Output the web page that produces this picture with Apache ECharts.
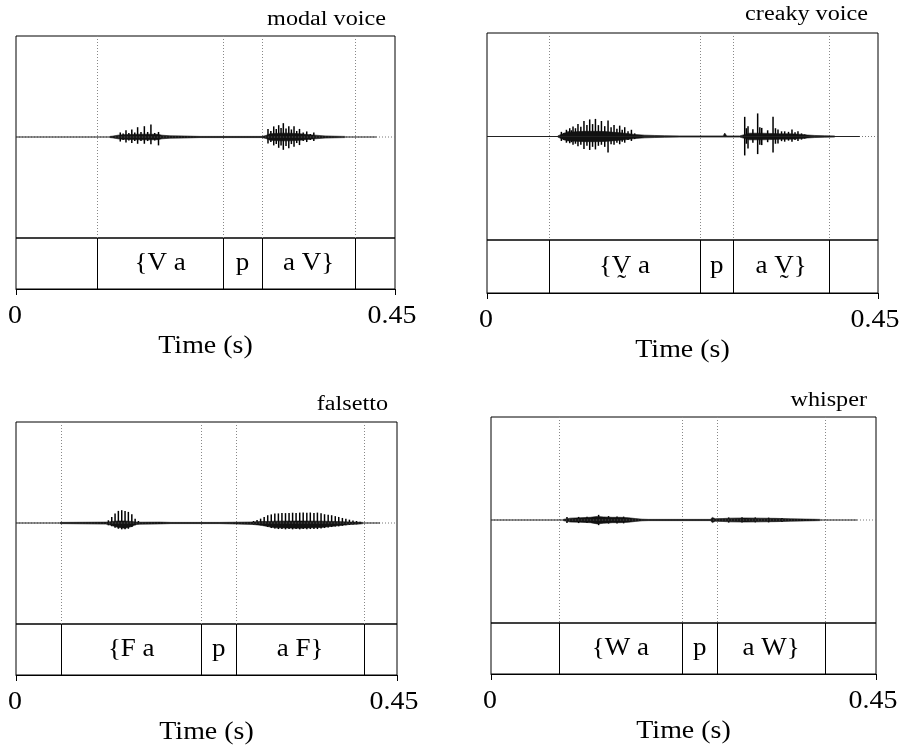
<!DOCTYPE html>
<html>
<head>
<meta charset="utf-8">
<script src="https://cdn.jsdelivr.net/npm/echarts@6/dist/echarts.min.js"></script>
<style>
  html, body { margin: 0; padding: 0; background: #fff; }
  #main { width: 907px; height: 751px; }
</style>
</head>
<body>
<div id="main"></div>
<script>
// waveform body envelopes: [time (s), up, down] in % of half the waveform box
const modalEnv = [
  [0.1116, 0.6, 0.6], [0.1152, 0.9, 0.9], [0.1211, 1.8, 1.8], [0.1259, 2.2, 2.2], [0.1354, 2.5, 2.5],
  [0.1472, 2.8, 2.8], [0.1591, 2.8, 2.8], [0.1686, 2.6, 2.6], [0.1733, 1.8, 1.8], [0.1828, 1.2, 1.2],
  [0.2007, 1, 1], [0.2125, 0.7, 0.7], [0.2185, 0.6, 0.6],
  [0.2921, 0.6, 0.6], [0.2968, 1.5, 1.5], [0.3016, 3.2, 3.2], [0.3134, 3.8, 3.8], [0.3253, 3.8, 3.8],
  [0.3372, 3.2, 3.2], [0.3491, 2.2, 2.2], [0.3586, 1.6, 1.6], [0.3669, 1.1, 1.1], [0.3787, 0.8, 0.8], [0.3906, 0.6, 0.6]
];
// glottal pulses: [time (s), up, down]
const modalPulses = [
  [0.1238, 4.5, 4.5], [0.1272, 3.5, 3], [0.1306, 6.7, 5.5], [0.1340, 4, 3.5], [0.1375, 7.5, 6],
  [0.1410, 4.5, 4], [0.1444, 9.7, 6.7], [0.1484, 5, 4], [0.1524, 10.7, 6.7], [0.1563, 5, 4],
  [0.1602, 12.5, 7.3], [0.1647, 4, 3.5], [0.1692, 5, 8.3],
  [0.2992, 8, 6.5], [0.3026, 6, 5], [0.3060, 10.5, 8.3], [0.3090, 8, 7], [0.3119, 11.7, 10.7],
  [0.3147, 9, 8.5], [0.3174, 13.7, 12.7], [0.3206, 8.5, 9], [0.3239, 10.7, 11.2], [0.3270, 7.5, 7],
  [0.3301, 10.7, 9.7], [0.3333, 6, 6], [0.3366, 8, 8], [0.3410, 4.5, 4], [0.3452, 5.5, 5],
  [0.3494, 3, 3], [0.3536, 4.5, 4]
];
const modalEnd = 0.428;
const modalBounds = [0.096, 0.246, 0.292, 0.403];
const modalLabels = ['', '{V a', 'p', 'a V}', ''];

const creakyEnv = [
  [0.0814, 0.6, 0.6], [0.0837, 2.5, 2.5], [0.0894, 3.5, 3.5], [0.1009, 4.5, 4.5], [0.1124, 5, 5], [0.1240, 5, 5],
  [0.1355, 4.8, 4.8], [0.1470, 4, 4], [0.1585, 3.2, 3.2], [0.1700, 2, 2], [0.1815, 1.3, 1.3], [0.1930, 1, 1],
  [0.2045, 0.8, 0.8], [0.2218, 0.6, 0.6],
  [0.2718, 0.6, 0.6], [0.2736, 3.3, 1.7], [0.2760, 0.6, 0.6],
  [0.2908, 0.6, 0.6], [0.2931, 2.5, 2.5], [0.3023, 3.2, 3.2], [0.3138, 3.2, 3.2], [0.3254, 3, 3], [0.3369, 2.6, 2.6],
  [0.3484, 2.6, 2.6], [0.3599, 2.2, 2.2], [0.3691, 1.4, 1.4], [0.3772, 1, 1], [0.3887, 0.7, 0.7], [0.4002, 0.6, 0.6]
];
const creakyPulses = [
  [0.0856, 4.5, 4.3], [0.0885, 3.5, 3.5], [0.0914, 6.5, 6], [0.0933, 5, 4.5], [0.0952, 8, 6.5],
  [0.0971, 6, 5.5], [0.0990, 9.7, 8], [0.1018, 8, 7], [0.1047, 12, 9.5], [0.1080, 9.5, 8],
  [0.1116, 15, 12], [0.1150, 11, 9], [0.1182, 16.5, 13], [0.1215, 12, 10], [0.1248, 17, 12.5],
  [0.1282, 11, 9], [0.1317, 15, 8], [0.1355, 10, 10], [0.1393, 15.5, 15.5], [0.1428, 9, 7.5],
  [0.1462, 11, 8], [0.1495, 7.5, 6], [0.1527, 10.5, 7.5], [0.1556, 6.5, 5], [0.1585, 9, 6],
  [0.1623, 5, 3.5], [0.1662, 6.5, 4.3], [0.1700, 3, 2.5],
  [0.2966, 19, 18.3], [0.2985, 8, 7], [0.3004, 10, 11.7], [0.3060, 7, 6], [0.3115, 22.3, 17],
  [0.3140, 9, 8], [0.3162, 8.3, 8.3], [0.3230, 6, 5.5], [0.3292, 19, 15.5], [0.3320, 8, 7],
  [0.3349, 6.7, 6.7], [0.3390, 5, 4.5], [0.3426, 5, 5], [0.3470, 4.5, 4], [0.3510, 6.7, 5],
  [0.3545, 4, 3.5], [0.3579, 5, 4.3], [0.3620, 3, 3], [0.3656, 2, 2]
];
const creakyEnd = 0.429;
const creakyBounds = [0.0714, 0.2451, 0.2836, 0.3936];
const creakyLabels = ['', '{V\u0330 a', 'p', 'a V\u0330}', ''];

const falsettoEnv = [
  [0.0520, 0.6, 0.6], [0.0540, 0.9, 1.1], [0.1060, 0.9, 1.1], [0.1091, 1, 1.5], [0.1131, 1.5, 2.5], [0.1209, 2, 4.5],
  [0.1288, 2, 5.2], [0.1368, 1.5, 3.5], [0.1407, 1, 1.8], [0.1446, 0.8, 1.2], [0.1700, 0.9, 0.9], [0.1830, 0.6, 0.6],
  [0.2400, 0.6, 0.6], [0.2420, 0.9, 1.2], [0.2790, 1, 1.4], [0.2889, 1.5, 2.2], [0.2973, 1.5, 3.5], [0.3057, 1.8, 4.8],
  [0.3351, 2, 5.2], [0.3603, 1.8, 4.4], [0.3771, 1.5, 3], [0.3938, 1, 1.5], [0.4064, 0.7, 1], [0.4100, 0.6, 0.6]
];
const falsettoPulses = [
  [0.1091, 2.7, 2.3], [0.1131, 6, 3.3], [0.1170, 9.3, 4.7], [0.1209, 12, 5.7], [0.1249, 12.7, 6.3],
  [0.1288, 12, 6.3], [0.1327, 11, 5.7], [0.1368, 8.7, 4], [0.1407, 4.3, 2.3], [0.1446, 2, 1.3],
  [0.2805, 2, 1.5], [0.2847, 3, 2], [0.2889, 4.3, 2.3], [0.2931, 6, 3], [0.2973, 7.7, 4],
  [0.3015, 8.5, 5], [0.3057, 9.3, 5.5], [0.3099, 9.5, 6], [0.3141, 10, 6], [0.3183, 9.8, 6.3],
  [0.3225, 10, 6], [0.3267, 10.2, 6.3], [0.3308, 9.8, 6], [0.3351, 10.3, 6.3], [0.3392, 10.5, 6],
  [0.3435, 10.2, 6.2], [0.3476, 10.4, 6], [0.3519, 10, 6], [0.3560, 10.3, 6], [0.3603, 9.6, 5.5],
  [0.3644, 8.7, 5], [0.3687, 8.2, 4.5], [0.3728, 7.7, 4], [0.3771, 6.8, 3.5], [0.3812, 6, 3.3],
  [0.3855, 5, 2.8], [0.3896, 4.3, 2.3], [0.3938, 3.3, 2], [0.3980, 2.5, 1.5], [0.4022, 2, 1.3], [0.4064, 1.2, 1]
];
const falsettoEnd = 0.430;
const falsettoBounds = [0.0532, 0.219, 0.260, 0.411];
const falsettoLabels = ['', '{F a', 'p', 'a F}', ''];

const whisperEnv = [
  [0.0845, 0.6, 0.6], [0.0868, 1.8, 1.8], [0.0927, 1.8, 2], [0.1044, 2.2, 2.2], [0.1161, 2.6, 2.6], [0.1242, 3.5, 3.8],
  [0.1313, 3, 3.2], [0.1418, 2.6, 2.6], [0.1511, 2.6, 2.6], [0.1605, 2.2, 2.2], [0.1687, 1.4, 1.4], [0.1768, 0.8, 0.8],
  [0.1839, 0.6, 0.6],
  [0.2563, 0.6, 0.6], [0.2587, 2.5, 2.5], [0.2622, 1.2, 1.2], [0.2703, 1.4, 1.4], [0.2797, 1.8, 1.8], [0.2972, 2, 2],
  [0.3148, 1.8, 1.8], [0.3323, 1.6, 1.6], [0.3498, 1.2, 1.2], [0.3674, 0.9, 0.9], [0.3790, 0.7, 0.7], [0.3849, 0.6, 0.6]
];
const whisperPulses = [
  [0.0888, 3, 3], [0.1024, 3, 3], [0.1122, 3.2, 3], [0.1258, 5, 5], [0.1374, 3.8, 3.5], [0.1473, 3.5, 3.5],
  [0.1550, 3.3, 3.3],
  [0.2778, 2.5, 2.5], [0.2934, 2.7, 2.5], [0.3089, 2.5, 2.3], [0.3245, 2.3, 2.3], [0.3401, 2, 2]
];
const whisperEnd = 0.428;
const whisperBounds = [0.079, 0.2236, 0.2645, 0.3904];
const whisperLabels = ['', '{W a', 'p', 'a W}', ''];

const tickValues = [0, 0.45];
const tickLabels = ['0', '0.45'];
const axisName = 'Time (s)';

const FONT = '"Liberation Serif", "Times New Roman", serif';
// the original type is a wide Times; stretch it horizontally
const TITLE_SX = 1.18, AXIS_SX = 1.14, TIER_SX = 1.08;

// layout of the four panels
const panels = [
  { title: 'modal voice', env: modalEnv, pulses: modalPulses, end: modalEnd, bounds: modalBounds, labels: modalLabels,
    left: 16, width: 379, top: 36, waveH: 202, tierH: 51, titleX: 386, titleY: 19.8 },
  { title: 'creaky voice', env: creakyEnv, pulses: creakyPulses, end: creakyEnd, bounds: creakyBounds, labels: creakyLabels,
    left: 487, width: 391, top: 33, waveH: 207, tierH: 53, titleX: 868, titleY: 14.8 },
  { title: 'falsetto', env: falsettoEnv, pulses: falsettoPulses, end: falsettoEnd, bounds: falsettoBounds, labels: falsettoLabels,
    left: 16, width: 381, top: 422, waveH: 202, tierH: 51, titleX: 388, titleY: 404.8 },
  { title: 'whisper', env: whisperEnv, pulses: whisperPulses, end: whisperEnd, bounds: whisperBounds, labels: whisperLabels,
    left: 491, width: 385, top: 417, waveH: 206, tierH: 51, titleX: 867, titleY: 400.4 }
];

const chart = echarts.init(document.getElementById('main'), null, { renderer: 'canvas' });

const grid = [], xAxis = [], yAxis = [], series = [], graphic = [];

function vline(a, b, style) {
  const x = Math.round(a[0]) + 0.5;
  return { type: 'line', shape: { x1: x, y1: a[1], x2: x, y2: b[1] }, style: style };
}

panels.forEach(function (p, i) {
  const w = 2 * i, t = 2 * i + 1;
  grid.push({ left: p.left, top: p.top, width: p.width, height: p.waveH, show: true, borderColor: '#000', borderWidth: 1 });
  grid.push({ left: p.left, top: p.top + p.waveH, width: p.width, height: p.tierH, show: true, borderColor: '#000', borderWidth: 1 });

  xAxis.push({ gridIndex: w, type: 'value', min: 0, max: 0.45, show: false });
  xAxis.push({
    gridIndex: t, type: 'value', min: 0, max: 0.45, interval: 0.45,
    axisLine: { show: true, onZero: false, lineStyle: { color: '#000', width: 1 } },
    axisTick: { show: true, length: 6, lineStyle: { color: '#000' } },
    splitLine: { show: false },
    axisLabel: { show: false }
  });
  yAxis.push({ gridIndex: w, type: 'value', min: -100, max: 100, show: false });
  yAxis.push({ gridIndex: t, type: 'value', min: 0, max: 1, show: false });

  graphic.push({
    type: 'text', x: p.titleX, y: p.titleY, scaleX: TITLE_SX, silent: true,
    style: { text: p.title, font: '20.5px ' + FONT, fill: '#000', align: 'right', verticalAlign: 'middle' }
  });

  // dotted zero line
  series.push({
    type: 'line', xAxisIndex: w, yAxisIndex: w, symbol: 'none', silent: true,
    data: [[0, 0], [0.45, 0]], lineStyle: { color: '#777', width: 1, type: [1, 2] }
  });
  // interval boundaries (dotted) in waveform
  series.push({
    type: 'custom', xAxisIndex: w, yAxisIndex: w, silent: true,
    data: p.bounds.map(function (b) { return [b, 0]; }),
    renderItem: function (params, api) {
      return vline(api.coord([api.value(0), 100]), api.coord([api.value(0), -100]),
        { stroke: '#888', lineWidth: 1, lineDash: [1, 2] });
    }
  });
  // signal baseline
  series.push({
    type: 'line', xAxisIndex: w, yAxisIndex: w, symbol: 'none', silent: true,
    data: [[0, 0], [p.end, 0]], lineStyle: { color: '#222', width: 1 }
  });
  // envelope body (upper and lower)
  series.push({
    type: 'line', xAxisIndex: w, yAxisIndex: w, symbol: 'none', silent: true,
    data: p.env.map(function (d) { return [d[0], d[1]]; }),
    lineStyle: { color: '#111', width: 0.6 }, areaStyle: { color: '#111', opacity: 1 }
  });
  series.push({
    type: 'line', xAxisIndex: w, yAxisIndex: w, symbol: 'none', silent: true,
    data: p.env.map(function (d) { return [d[0], -d[2]]; }),
    lineStyle: { color: '#111', width: 0.6 }, areaStyle: { color: '#111', opacity: 1 }
  });
  // pulses
  series.push({
    type: 'custom', xAxisIndex: w, yAxisIndex: w, silent: true,
    data: p.pulses,
    renderItem: function (params, api) {
      const a = api.coord([api.value(0), api.value(1)]);
      const b = api.coord([api.value(0), -api.value(2)]);
      return { type: 'line', shape: { x1: a[0], y1: a[1], x2: b[0], y2: b[1] },
        style: { stroke: '#000', lineWidth: 1.5 } };
    }
  });
  // tier boundaries
  series.push({
    type: 'custom', xAxisIndex: t, yAxisIndex: t, silent: true,
    data: p.bounds.map(function (b) { return [b, 0]; }),
    renderItem: function (params, api) {
      return vline(api.coord([api.value(0), 1]), api.coord([api.value(0), 0]), { stroke: '#000', lineWidth: 1 });
    }
  });
  // tier labels at interval midpoints
  const edges = [0].concat(p.bounds, [0.45]);
  const mids = [];
  for (let k = 0; k < edges.length - 1; k++) mids.push([(edges[k] + edges[k + 1]) / 2, 0.5]);
  series.push({
    type: 'custom', xAxisIndex: t, yAxisIndex: t, silent: true,
    data: mids,
    renderItem: function (params, api) {
      const c = api.coord([api.value(0), api.value(1)]);
      return { type: 'text', x: c[0], y: c[1], scaleX: TIER_SX,
        style: { text: p.labels[params.dataIndex], font: '25px ' + FONT, fill: '#000', align: 'center', verticalAlign: 'middle' } };
    }
  });
  // tick labels and axis name under the tier
  series.push({
    type: 'custom', xAxisIndex: t, yAxisIndex: t, silent: true, clip: false,
    data: tickValues.map(function (v) { return [v, 0]; }),
    renderItem: function (params, api) {
      const c = api.coord([api.value(0), 0]);
      const shift = params.dataIndex === 0 ? -1 : -3;
      const items = [{ type: 'text', x: c[0] + shift, y: c[1] + 28, scaleX: AXIS_SX,
        style: { text: tickLabels[params.dataIndex], font: '24.5px ' + FONT, fill: '#000', align: 'center', verticalAlign: 'middle' } }];
      if (params.dataIndex === 0) {
        const m = api.coord([0.225, 0]);
        items.push({ type: 'text', x: m[0], y: m[1] + 58, scaleX: AXIS_SX,
          style: { text: axisName, font: '24.5px ' + FONT, fill: '#000', align: 'center', verticalAlign: 'middle' } });
      }
      return { type: 'group', children: items };
    }
  });
});

chart.setOption({
  backgroundColor: '#fff',
  animation: false,
  grid: grid,
  xAxis: xAxis,
  yAxis: yAxis,
  series: series,
  graphic: graphic
});
</script>
</body>
</html>
